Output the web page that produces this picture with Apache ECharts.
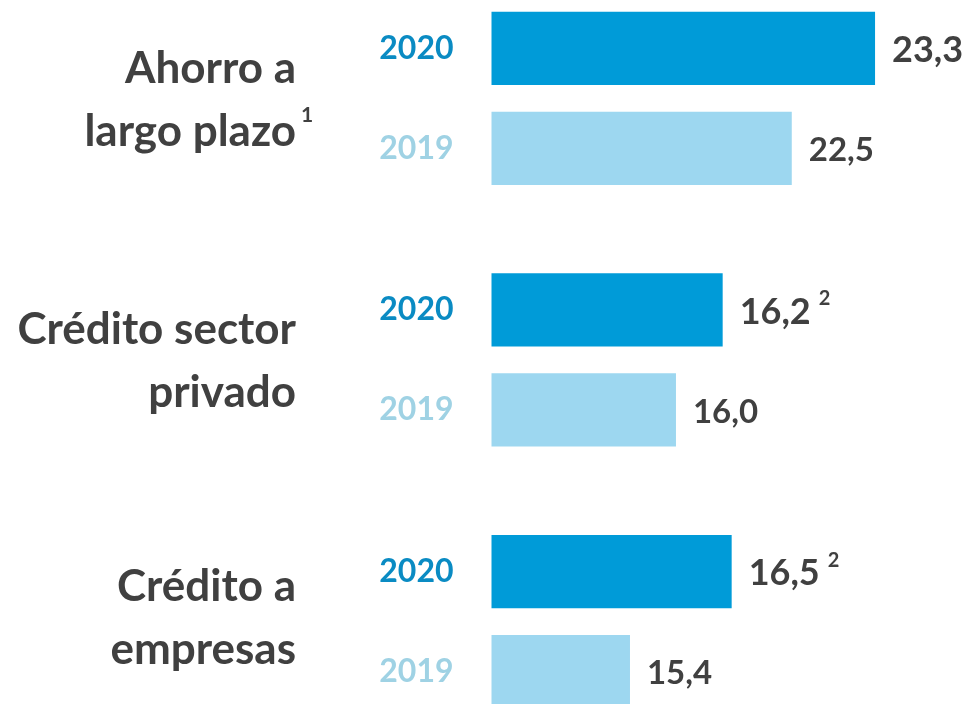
<!DOCTYPE html>
<html>
<head>
<meta charset="utf-8">
<style>
  html, body { margin: 0; padding: 0; background: #fff; }
  #main { width: 972px; height: 704px; }
</style>
<script src="https://cdn.jsdelivr.net/npm/echarts@6/dist/echarts.min.js"></script>
</head>
<body>
<div id="main"></div>
<script>
// datos
var groups = ['Ahorro a\nlargo plazo', 'Crédito sector\nprivado', 'Crédito a\nempresas'];
var groupNotes = ['1', '', ''];
var years = ['2020', '2019'];
var values2020 = [23.3, 16.2, 16.5];
var values2019 = [22.5, 16.0, 15.4];
var notes2020 = ['', '2', '2'];

// cada grupo tiene su propia escala (como en el original)
var axisMin = [19.616, 15.21, 13.902];
var axisMax = [23.458, 16.923, 18.229];
var gridTop = [-1.65, 259.95, 521.65];
var titleY = [100, 361.5, 618];

var DARK = '#404040';
var COLOR_2020 = '#009bd8';
var COLOR_2019 = '#9dd7f0';
var FONT = 'Lato';

function fmt(v) {
	return v.toFixed(1).replace('.', ',');
}

var grids = [], xAxes = [], yAxes = [], series = [], graphics = [];

groups.forEach(function (name, i) {
	grids.push({ left: 491.5, width: 400, top: gridTop[i], height: 200, outerBoundsMode: 'none', containLabel: false });
	xAxes.push({ type: 'value', gridIndex: i, min: axisMin[i], max: axisMax[i], show: false });
	yAxes.push({
		type: 'category',
		gridIndex: i,
		inverse: true,
		data: [
			{ value: years[0], textStyle: { color: '#0a8bc3' } },
			{ value: years[1], textStyle: { color: '#9fd2e4' } }
		],
		axisLine: { show: false },
		axisTick: { show: false },
		axisLabel: { margin: 38, fontSize: 32, fontWeight: 'bold', fontFamily: FONT, padding: [7, 0, 0, 0] }
	});
	series.push({
		type: 'bar',
		xAxisIndex: i,
		yAxisIndex: i,
		barCategoryGap: '26.7%',
		silent: true,
		data: [
			{ value: values2020[i], itemStyle: { color: COLOR_2020 }, note: notes2020[i], big: true },
			{ value: values2019[i], itemStyle: { color: COLOR_2019 }, note: '', big: false }
		],
		label: {
			show: true,
			position: 'right',
			distance: 17,
			offset: [0, 2],
			formatter: function (p) {
				var s = p.data.big ? '{v|' + fmt(p.value) + '}' : '{w|' + fmt(p.value) + '}';
				if (p.data.note) s += '{s|' + p.data.note + '}';
				return s;
			},
			rich: {
				v: { fontSize: 36, fontWeight: 'bold', color: DARK, fontFamily: FONT, lineHeight: 46 },
				w: { fontSize: 33, fontWeight: 'bold', color: DARK, fontFamily: FONT },
				s: { fontSize: 20, fontWeight: 'bold', color: DARK, fontFamily: FONT, verticalAlign: 'top', lineHeight: 18, padding: [0, 0, 0, 8] }
			}
		}
	});
	graphics.push({
		type: 'text',
		x: 296,
		y: titleY[i],
		style: {
			text: name,
			fill: DARK,
			font: 'bold 44px ' + FONT,
			lineHeight: 63,
			textAlign: 'right',
			textVerticalAlign: 'middle'
		}
	});
	if (groupNotes[i]) {
		graphics.push({
			type: 'text',
			x: 301,
			y: titleY[i] + 15,
			style: {
				text: groupNotes[i],
				fill: DARK,
				font: 'bold 21px ' + FONT,
				textAlign: 'left',
				textVerticalAlign: 'middle'
			}
		});
	}
});

var chart = echarts.init(document.getElementById('main'));
chart.setOption({
	animation: false,
	grid: grids,
	xAxis: xAxes,
	yAxis: yAxes,
	series: series,
	graphic: graphics
});
</script>
</body>
</html>
